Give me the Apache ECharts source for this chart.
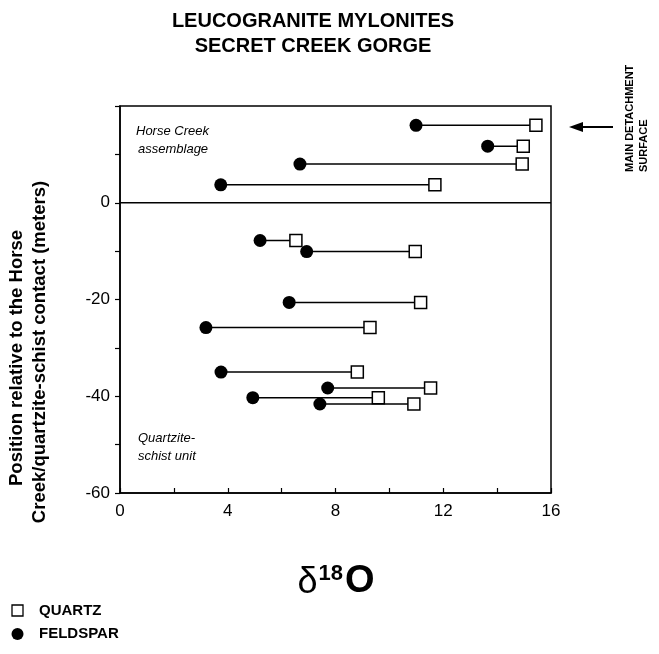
<!DOCTYPE html>
<html><head><meta charset="utf-8">
<script src="https://cdn.jsdelivr.net/npm/echarts@6/dist/echarts.min.js"></script>
<style>html,body{margin:0;padding:0;background:#fff}#c{width:659px;height:654px}</style>
</head><body><div id="c"></div>
<script>
// Sample positions (m relative to Horse Creek / quartzite-schist contact)
const positions = [16, 11.7, 8, 3.7, -7.8, -10.1, -20.6, -25.8, -35, -38.3, -40.3, -41.6];
// delta 18O values
const quartz   = [15.44, 14.97, 14.93, 11.69, 6.53, 10.96, 11.16, 9.28, 8.81, 11.53, 9.59, 10.91];
const feldspar = [10.99, 13.65, 6.68, 3.74, 5.20, 6.93, 6.28, 3.19, 3.75, 7.71, 4.93, 7.42];
const xTickLabels = [0, 4, 8, 12, 16];
const yTickLabels = [-60, -40, -20, 0];

const FONT = '"Liberation Sans", Arial, Helvetica, sans-serif';
const chart = echarts.init(document.getElementById('c'), null, {renderer: 'canvas'});

const pairSeries = positions.map((y, i) => ({
  type: 'line', data: [[feldspar[i], y], [quartz[i], y]],
  symbol: 'none', lineStyle: {color: '#000', width: 1.5}, silent: true, z: 2
}));

const option = {
  backgroundColor: '#fff',
  animation: false,
  grid: {left: 120, right: 108, top: 106, bottom: 161, show: true, borderColor: '#000', borderWidth: 1.5, backgroundColor: 'transparent'},
  xAxis: {
    type: 'value', min: 0, max: 16, interval: 4,
    axisLine: {show: true, onZero: false, lineStyle: {color: '#000', width: 1.5}},
    axisTick: {show: true, inside: true, length: 5, lineStyle: {color: '#000', width: 1.2}},
    minorTick: {show: true, splitNumber: 2, length: 5, lineStyle: {color: '#000', width: 1.2}},
    splitLine: {show: false},
    axisLabel: {color: '#000', fontFamily: FONT, fontSize: 17, margin: 10,
      formatter: v => xTickLabels.includes(v) ? String(v) : ''}
  },
  yAxis: {
    type: 'value', min: -60, max: 20, interval: 20,
    axisLine: {show: true, onZero: false, lineStyle: {color: '#000', width: 1.5}},
    axisTick: {show: true, inside: false, length: 5, lineStyle: {color: '#000', width: 1.2}},
    minorTick: {show: true, splitNumber: 2, length: 5, lineStyle: {color: '#000', width: 1.2}},
    splitLine: {show: false},
    axisLabel: {color: '#000', fontFamily: FONT, fontSize: 17, margin: 10,
      formatter: v => yTickLabels.includes(v) ? String(v) : ''}
  },
  series: [
    ...pairSeries,
    {
      type: 'line', data: [[0, 0], [16, 0]], symbol: 'none', silent: true,
      lineStyle: {color: '#000', width: 1.5}, z: 1
    },
    {
      name: 'QUARTZ', type: 'scatter', symbol: 'rect', symbolSize: 12,
      data: positions.map((y, i) => [quartz[i], y]),
      itemStyle: {color: '#fff', borderColor: '#000', borderWidth: 1.5, opacity: 1}, z: 3
    },
    {
      name: 'FELDSPAR', type: 'scatter', symbol: 'circle', symbolSize: 13,
      data: positions.map((y, i) => [feldspar[i], y]),
      itemStyle: {color: '#000', opacity: 1}, z: 4
    }
  ],
  graphic: [
    {type: 'text', x: 313, y: 21, style: {text: 'LEUCOGRANITE MYLONITES', font: 'bold 20px ' + FONT, fill: '#000', textAlign: 'center', textVerticalAlign: 'middle'}},
    {type: 'text', x: 313, y: 46, style: {text: 'SECRET CREEK GORGE', font: 'bold 20px ' + FONT, fill: '#000', textAlign: 'center', textVerticalAlign: 'middle'}},
    {type: 'text', x: 17, y: 358, rotation: Math.PI / 2, style: {text: 'Position relative to the Horse', font: 'bold 18.5px ' + FONT, fill: '#000', textAlign: 'center', textVerticalAlign: 'middle'}},
    {type: 'text', x: 40, y: 352, rotation: Math.PI / 2, style: {text: 'Creek/quartzite-schist contact (meters)', font: 'bold 18.5px ' + FONT, fill: '#000', textAlign: 'center', textVerticalAlign: 'middle'}},
    {type: 'text', x: 136, y: 131, style: {text: 'Horse Creek', font: 'italic 13px ' + FONT, fill: '#000', textAlign: 'left', textVerticalAlign: 'middle'}},
    {type: 'text', x: 138, y: 149, style: {text: 'assemblage', font: 'italic 13px ' + FONT, fill: '#000', textAlign: 'left', textVerticalAlign: 'middle'}},
    {type: 'text', x: 138, y: 438, style: {text: 'Quartzite-', font: 'italic 13px ' + FONT, fill: '#000', textAlign: 'left', textVerticalAlign: 'middle'}},
    {type: 'text', x: 138, y: 456, style: {text: 'schist unit', font: 'italic 13px ' + FONT, fill: '#000', textAlign: 'left', textVerticalAlign: 'middle'}},
    // arrow + note
    {type: 'line', shape: {x1: 613, y1: 127, x2: 580, y2: 127}, style: {stroke: '#000', lineWidth: 2}},
    {type: 'polygon', shape: {points: [[569, 127], [583, 122], [583, 132]]}, style: {fill: '#000'}},
    {type: 'text', x: 630, y: 172, rotation: Math.PI / 2, style: {text: 'MAIN DETACHMENT', font: 'bold 11px ' + FONT, fill: '#000', textAlign: 'left', textVerticalAlign: 'middle'}},
    {type: 'text', x: 644, y: 172, rotation: Math.PI / 2, style: {text: 'SURFACE', font: 'bold 11px ' + FONT, fill: '#000', textAlign: 'left', textVerticalAlign: 'middle'}},
    // x-axis title
    {type: 'text', x: 336, y: 582, style: {
      text: '{d|δ}{s|18}{o|O}', textAlign: 'center', textVerticalAlign: 'middle',
      rich: {
        d: {font: '36px ' + FONT, fill: '#000', verticalAlign: 'bottom'},
        s: {font: 'bold 22px ' + FONT, fill: '#000', verticalAlign: 'top', padding: [0, 2, 16, 1]},
        o: {font: 'bold 38px ' + FONT, fill: '#000', verticalAlign: 'bottom'}
      }}},
    // legend
    {type: 'rect', shape: {x: 12, y: 605, width: 11, height: 11}, style: {fill: '#fff', stroke: '#000', lineWidth: 1.3}},
    {type: 'text', x: 39, y: 611, style: {text: 'QUARTZ', font: 'bold 15px ' + FONT, fill: '#000', textAlign: 'left', textVerticalAlign: 'middle'}},
    {type: 'circle', shape: {cx: 17.5, cy: 634, r: 6}, style: {fill: '#000'}},
    {type: 'text', x: 39, y: 634, style: {text: 'FELDSPAR', font: 'bold 15px ' + FONT, fill: '#000', textAlign: 'left', textVerticalAlign: 'middle'}}
  ]
};
chart.setOption(option);
</script>
</body></html>
